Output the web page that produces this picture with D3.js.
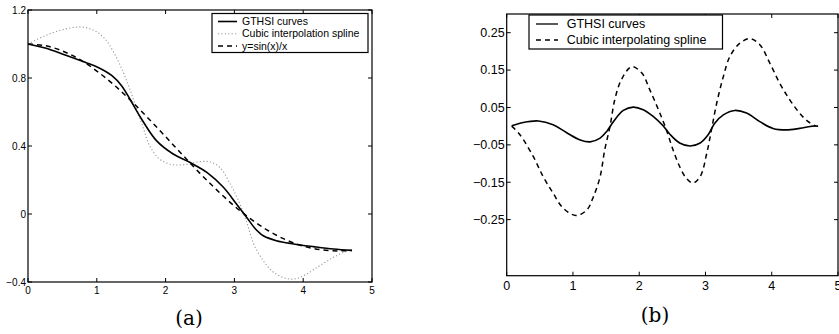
<!DOCTYPE html>
<html>
<head>
<meta charset="utf-8">
<title></title>
<style>
  body { margin: 0; background: #fff; }
  text { font-family: "Liberation Sans", Arial, sans-serif; fill: #000; }
  .cap { font-family: "DejaVu Serif", "Liberation Serif", serif; }
</style>
</head>
<body>
<script src="https://d3js.org/d3.v7.min.js"></script>
<script type="text/javascript">

    // ---- panel (a): approximation of sin(x)/x ----
    var gthsiA = [[0, 1.0], [0.25, 0.976], [0.54, 0.935], [0.83, 0.892], [1.02, 0.862], [1.22, 0.814],
                  [1.36, 0.755], [1.51, 0.656], [1.65, 0.559], [1.87, 0.43], [2.11, 0.353], [2.35, 0.304],
                  [2.6, 0.245], [2.84, 0.157], [3.03, 0.059], [3.18, -0.02], [3.3, -0.085], [3.42, -0.128],
                  [3.61, -0.157], [3.86, -0.176], [4.15, -0.192], [4.44, -0.206], [4.71, -0.214]];
    var splineA = [[0, 1.0], [0.25, 1.049], [0.54, 1.088], [0.78, 1.10], [0.97, 1.078], [1.12, 1.03],
                   [1.26, 0.94], [1.385, 0.833], [1.48, 0.735], [1.58, 0.618], [1.68, 0.5], [1.77, 0.40],
                   [1.92, 0.32], [2.11, 0.29], [2.31, 0.292], [2.5, 0.308], [2.65, 0.306], [2.79, 0.274],
                   [2.94, 0.176], [3.06, 0.078], [3.18, -0.05], [3.28, -0.176], [3.42, -0.275], [3.57, -0.343],
                   [3.76, -0.38], [3.9, -0.38], [4.05, -0.353], [4.24, -0.304], [4.44, -0.255], [4.61, -0.222],
                   [4.71, -0.214]];
    var sincA = [[0, 1.0], [0.25, 0.99], [0.5, 0.959], [0.75, 0.909], [1.0, 0.841], [1.25, 0.759],
                 [1.5, 0.665], [1.75, 0.562], [2.0, 0.455], [2.25, 0.346], [2.5, 0.239], [2.75, 0.139],
                 [3.0, 0.047], [3.25, -0.033], [3.5, -0.1], [3.75, -0.152], [4.0, -0.189], [4.25, -0.21],
                 [4.5, -0.217], [4.71, -0.214]];
    var xTicksA = [0, 1, 2, 3, 4, 5];
    var yTicksA = [-0.4, 0, 0.4, 0.8, 1.2];
    var legendA = ['GTHSI curves', 'Cubic interpolation spline', 'y=sin(x)/x'];

    // ---- panel (b): errors ----
    var gthsiB = [[0.075, 0.001], [0.25, 0.01], [0.48, 0.014], [0.7, 0.004], [0.9, -0.017], [1.11, -0.037],
                  [1.26, -0.042], [1.41, -0.032], [1.51, -0.014], [1.61, 0.012], [1.76, 0.042], [1.91, 0.051],
                  [2.06, 0.044], [2.21, 0.026], [2.36, 0.001], [2.46, -0.021], [2.61, -0.045], [2.77, -0.053],
                  [2.92, -0.045], [3.04, -0.023], [3.14, 0.008], [3.27, 0.03], [3.44, 0.042], [3.62, 0.035],
                  [3.82, 0.012], [4.02, -0.006], [4.22, -0.01], [4.42, -0.006], [4.62, 0.0], [4.7, 0.0]];
    var splineB = [[0.075, 0.0], [0.2, -0.023], [0.4, -0.081], [0.55, -0.135], [0.7, -0.179], [0.85, -0.219],
                   [1.045, -0.239], [1.21, -0.224], [1.31, -0.188], [1.41, -0.135], [1.48, -0.063], [1.56, 0.0],
                   [1.63, 0.07], [1.73, 0.124], [1.885, 0.159], [2.04, 0.142], [2.16, 0.097], [2.29, 0.044],
                   [2.4, -0.005], [2.51, -0.063], [2.61, -0.108], [2.71, -0.139], [2.81, -0.152], [2.92, -0.135],
                   [3.02, -0.072], [3.09, -0.01], [3.17, 0.062], [3.27, 0.133], [3.37, 0.187], [3.52, 0.222],
                   [3.67, 0.234], [3.82, 0.218], [3.97, 0.169], [4.12, 0.115], [4.27, 0.071], [4.42, 0.035],
                   [4.55, 0.012], [4.67, 0.0]];
    var xTicksB = [0, 1, 2, 3, 4, 5];
    var yTicksB = [-0.25, -0.15, -0.05, 0.05, 0.15, 0.25];
    var legendB = ['GTHSI curves', 'Cubic interpolating spline'];

    var fmt = function(d) { return String(d).replace('-', '\u2212'); };

    var svg = d3.select('body')
                .append('svg')
                    .attr('width', 839)
                    .attr('height', 334);

    function frame(g, x, y, xt, yt, fs, tick) {
        var x0 = x.range()[0], x1 = x.range()[1];
        var y0 = y.range()[0], y1 = y.range()[1];
        g.append('rect')
            .attr('x', x0).attr('y', y1)
            .attr('width', x1 - x0).attr('height', y0 - y1)
            .attr('fill', 'none').attr('stroke', '#000').attr('stroke-width', 1.2);
        xt.forEach(function(t) {
            var px = x(t);
            g.append('line').attr('x1', px).attr('x2', px).attr('y1', y0).attr('y2', y0 - tick).attr('stroke', '#000');
            g.append('line').attr('x1', px).attr('x2', px).attr('y1', y1).attr('y2', y1 + tick).attr('stroke', '#000');
            g.append('text').attr('x', px).attr('y', y0 + fs * 1.15)
                .attr('text-anchor', 'middle').style('font-size', fs + 'px').text(fmt(t));
        });
        yt.forEach(function(t) {
            var py = y(t);
            g.append('line').attr('x1', x0).attr('x2', x0 + tick).attr('y1', py).attr('y2', py).attr('stroke', '#000');
            g.append('line').attr('x1', x1).attr('x2', x1 - tick).attr('y1', py).attr('y2', py).attr('stroke', '#000');
            g.append('text').attr('x', x0 - 2).attr('y', py).attr('dy', '0.35em')
                .attr('text-anchor', 'end').style('font-size', fs + 'px').text(fmt(t));
        });
    }

    function curve(g, data, x, y, style) {
        var line = d3.line()
                    .x(function(d) { return x(d[0]); })
                    .y(function(d) { return y(d[1]); })
                    .curve(d3.curveCatmullRom.alpha(0.5));
        g.append('path')
            .datum(data)
            .attr('d', line)
            .attr('fill', 'none')
            .attr('stroke', style.color)
            .attr('stroke-width', style.width)
            .attr('stroke-dasharray', style.dash);
    }

    var solid = { color: '#000', width: 1.6, dash: null };
    var dashed = { color: '#000', width: 1.5, dash: '5,4' };
    var dotted = { color: '#9a9a9a', width: 1.1, dash: '1.2,2.2' };

    // panel (a)
    var xA = d3.scaleLinear().domain([0, 5]).range([28, 372]);
    var yA = d3.scaleLinear().domain([-0.4, 1.2]).range([282, 10]);
    var gA = svg.append('g');
    curve(gA, splineA, xA, yA, dotted);
    curve(gA, sincA, xA, yA, dashed);
    curve(gA, gthsiA, xA, yA, solid);
    frame(gA, xA, yA, xTicksA, yTicksA, 10, 4);

    var legA = gA.append('g');
    legA.append('rect').attr('x', 212).attr('y', 13.5).attr('width', 156).attr('height', 39)
        .attr('fill', '#fff').attr('stroke', '#000').attr('stroke-width', 1.2);
    [solid, dotted, dashed].forEach(function(s, i) {
        var cy = 21.5 + i * 12.3;
        legA.append('line').attr('x1', 218).attr('x2', 237).attr('y1', cy).attr('y2', cy)
            .attr('stroke', s.color).attr('stroke-width', s.width).attr('stroke-dasharray', s.dash);
        legA.append('text').attr('x', 242).attr('y', cy).attr('dy', '0.35em')
            .style('font-size', '10.5px').text(legendA[i]);
    });
    gA.append('text').attr('class', 'cap').attr('x', 189).attr('y', 325)
        .attr('text-anchor', 'middle').style('font-size', '20px').text('(a)');

    // panel (b)
    var xB = d3.scaleLinear().domain([0, 5]).range([506.7, 838]);
    var yB = d3.scaleLinear().domain([-0.4, 0.3]).range([275.7, 14]);
    var gB = svg.append('g');
    curve(gB, splineB, xB, yB, dashed);
    curve(gB, gthsiB, xB, yB, solid);
    frame(gB, xB, yB, xTicksB, yTicksB, 12.5, 4);

    var legB = gB.append('g');
    legB.append('rect').attr('x', 529).attr('y', 15).attr('width', 193.5).attr('height', 34)
        .attr('fill', '#fff').attr('stroke', '#000').attr('stroke-width', 1.2);
    [solid, dashed].forEach(function(s, i) {
        var cy = 24 + i * 16;
        legB.append('line').attr('x1', 536).attr('x2', 558).attr('y1', cy).attr('y2', cy)
            .attr('stroke', s.color).attr('stroke-width', 1.3).attr('stroke-dasharray', s.dash);
        legB.append('text').attr('x', 566.7).attr('y', cy).attr('dy', '0.35em')
            .style('font-size', '12.5px').text(legendB[i]);
    });
    gB.append('text').attr('class', 'cap').attr('x', 655).attr('y', 322)
        .attr('text-anchor', 'middle').style('font-size', '20px').text('(b)');

</script>
</body>
</html>
